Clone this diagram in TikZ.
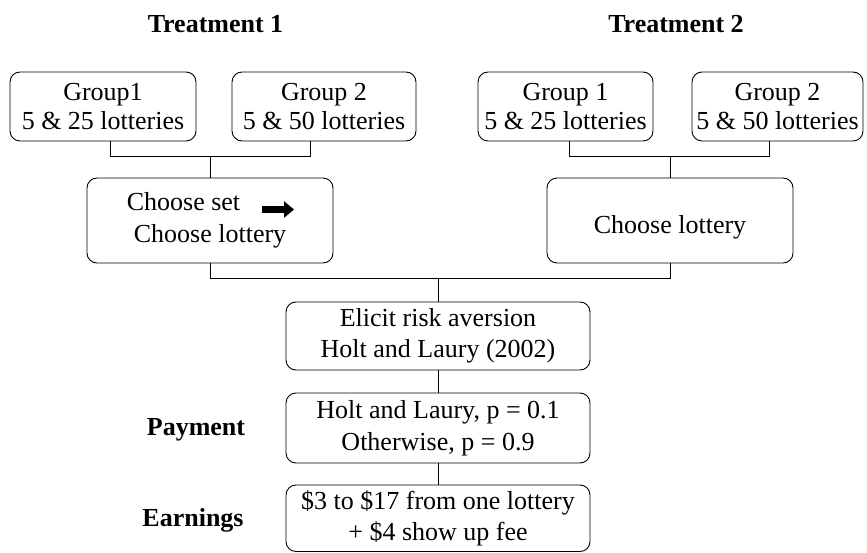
\documentclass[tikz,border=0pt]{standalone}
\usepackage{fontspec}
\setmainfont{Liberation Serif}
\usepackage{tikz}
\usetikzlibrary{arrows.meta}

\tikzset{
  stagebox/.style={draw=drawColor,line width=0.9pt,rounded corners=10pt,align=center,inner sep=0pt},
  loose/.style={font=\fontsize{26}{31.5}\selectfont},
  drop/.style={execute at begin node={\rule{0pt}{#1}}},
  headlabel/.style={font=\fontsize{26}{29}\selectfont\bfseries,anchor=base,inner sep=0pt},
  link/.style={draw=drawColor,line width=0.9pt},
  fatarrow/.style={line width=7pt,-{Triangle[length=10pt,width=16pt]}}
}

\begin{document}
\begin{tikzpicture}[x=1pt,y=1pt,font=\fontsize{26}{29}\selectfont]
\definecolor{fillColor}{RGB}{255,255,255}
\definecolor{drawColor}{RGB}{0,0,0}
\path[use as bounding box,fill=fillColor] (0,0) rectangle (867,552);

% treatment headings
\node[headlabel] (treat1) at (215.5,519) {Treatment 1};
\node[headlabel] (treat2) at (676,519) {Treatment 2};

% groups
\node[stagebox,minimum width=186pt,minimum height=69pt] (grpA1) at (103,445.5) {Group1\\5 \& 25 lotteries};
\node[stagebox,minimum width=184pt,minimum height=69pt] (grpA2) at (324,445.5) {Group 2\\5 \& 50 lotteries};
\node[stagebox,minimum width=175pt,minimum height=69pt] (grpB1) at (565.5,445.5) {Group 1\\5 \& 25 lotteries};
\node[stagebox,minimum width=171pt,minimum height=69pt] (grpB2) at (777.5,445.5) {Group 2\\5 \& 50 lotteries};

% choices
\node[stagebox,loose,drop=24pt,minimum width=246pt,minimum height=85pt] (chooseA) at (210,331.5) {Choose set\hspace*{53pt}\\Choose lottery};
\node[stagebox,drop=32pt,minimum width=246pt,minimum height=85pt] (chooseB) at (670,331.5) {Choose lottery};
\draw[fatarrow] ([shift={(52,11)}]chooseA.center) -- ++(32,0);

% common stages
\node[stagebox,loose,drop=25pt,minimum width=304pt,minimum height=68pt] (elicit) at (438,216) {Elicit risk aversion\\Holt and Laury (2002)};
\node[stagebox,loose,drop=26pt,minimum width=304pt,minimum height=70pt] (payment) at (438,124) {Holt and Laury, p = 0.1\\Otherwise, p = 0.9};
\node[stagebox,loose,drop=27pt,minimum width=304pt,minimum height=66.5pt] (earning) at (438,33.75) {\$3 to \$17 from one lottery\\+ \$4 show up fee};

\node[headlabel] (paylab) at (196,117) {Payment};
\node[headlabel] (earnlab) at (193,26) {Earnings};

% connectors
\path[link] (chooseA.north) -- ++(0,21) coordinate (joinA);
\path[link] ([xshift=7pt]grpA1.south) |- (joinA) -| ([xshift=-14pt]grpA2.south);
\path[link] (chooseB.north) -- ++(0,21) coordinate (joinB);
\path[link] ([xshift=3.5pt]grpB1.south) |- (joinB) -| ([xshift=-8.5pt]grpB2.south);
\path[link] (elicit.north) -- ++(0,23) coordinate (joinC);
\path[link] (chooseA.south) |- (joinC) -| (chooseB.south);
\path[link] (elicit) -- (payment);
\path[link] (payment) -- (earning);
\end{tikzpicture}
\end{document}
